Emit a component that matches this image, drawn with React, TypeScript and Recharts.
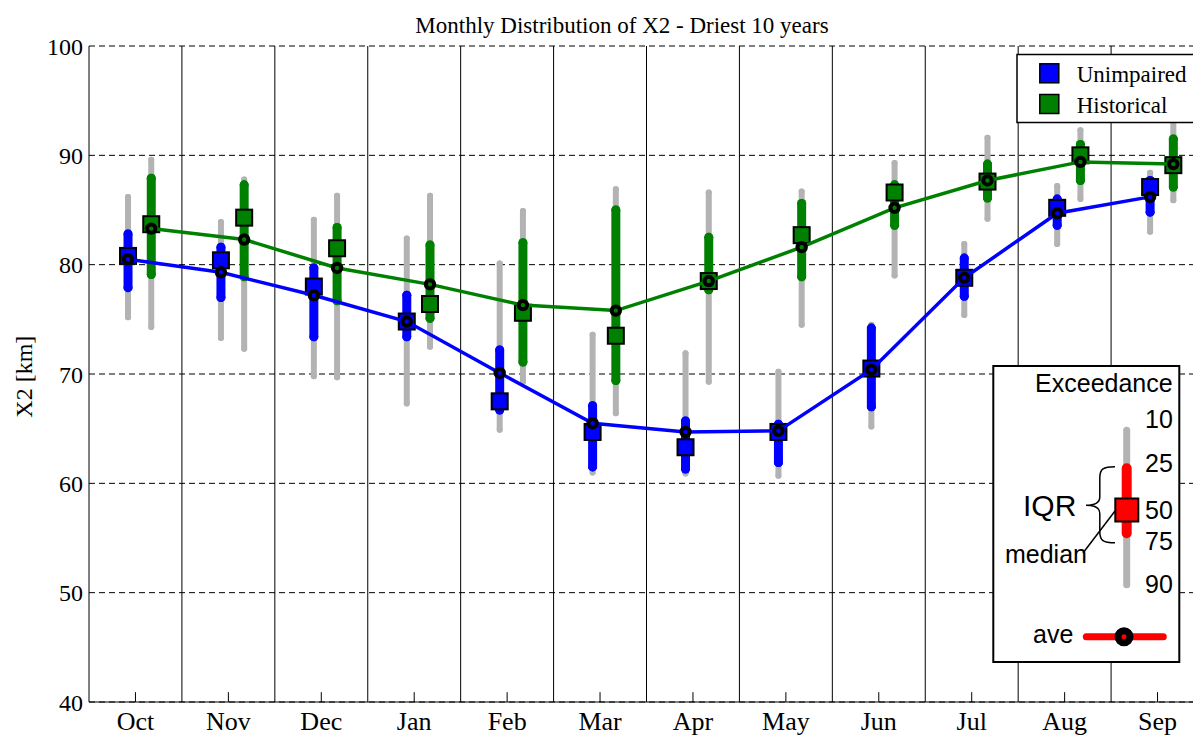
import React from 'react';
import { ComposedChart, Scatter, ErrorBar, XAxis, YAxis, CartesianGrid, ReferenceLine } from 'recharts';

const SERIF = '"Liberation Serif", "Times New Roman", serif';
const SANS = '"Liberation Sans", Arial, sans-serif';

const months = ['Oct', 'Nov', 'Dec', 'Jan', 'Feb', 'Mar', 'Apr', 'May', 'Jun', 'Jul', 'Aug', 'Sep'];
const yTicks = [40, 50, 60, 70, 80, 90, 100];

// Unimpaired (blue) – exceedance percentiles, 10% is the high end
const unimpP10 = [86.2, 83.9, 84.1, 82.4, 80.1, 73.6, 71.9, 70.2, 74.5, 81.9, 87.2, 88.4];
const unimpP25 = [82.8, 81.6, 79.7, 77.2, 72.2, 67.1, 65.7, 65.4, 74.2, 80.6, 86.0, 87.7];
const unimpP50 = [80.8, 80.4, 78.0, 74.8, 67.5, 64.7, 63.3, 64.7, 70.5, 78.8, 85.2, 87.1];
const unimpP75 = [77.9, 77.0, 73.4, 73.4, 66.7, 61.5, 61.3, 61.9, 67.0, 77.1, 83.6, 84.8];
const unimpP90 = [75.2, 73.3, 69.8, 67.3, 64.9, 61.0, 60.9, 60.7, 65.2, 75.4, 81.9, 83.0];
const unimpMean = [80.5, 79.3, 77.2, 74.8, 70.1, 65.5, 64.7, 64.8, 70.4, 78.8, 84.7, 86.2];

// Historical (green)
const histP10 = [89.6, 87.8, 86.3, 86.3, 84.9, 86.9, 86.6, 86.7, 89.3, 91.6, 92.3, 93.5];
const histP25 = [87.9, 87.3, 83.4, 81.8, 82.0, 85.0, 82.5, 85.6, 87.3, 89.2, 91.0, 91.5];
const histP50 = [83.7, 84.3, 81.5, 76.4, 75.6, 73.5, 78.5, 82.7, 86.6, 87.6, 90.0, 89.1];
const histP75 = [79.1, 78.9, 76.7, 75.1, 71.1, 69.4, 77.7, 78.9, 83.6, 86.1, 87.7, 87.1];
const histP90 = [74.3, 72.3, 69.7, 72.5, 69.3, 66.4, 69.3, 74.5, 79.0, 84.2, 86.0, 85.9];
const histMean = [83.3, 82.3, 79.7, 78.2, 76.3, 75.8, 78.5, 81.6, 85.2, 87.7, 89.4, 89.2];

const BLUE = '#0000ff';
const GREEN = '#008000';
const GREY = '#b3b3b3';

function buildRows(p10: number[], p25: number[], p50: number[], p75: number[], p90: number[], mean: number[], offset: number) {
  return months.map((m, i) => ({
    month: m,
    x: i + 0.5 + offset,
    med: p50[i],
    mean: mean[i],
    outer: [p50[i] - p90[i], p10[i] - p50[i]],
    iqr: [p50[i] - p75[i], p25[i] - p50[i]],
  }));
}

const unimpRows = buildRows(unimpP10, unimpP25, unimpP50, unimpP75, unimpP90, unimpMean, -0.08);
const histRows = buildRows(histP10, histP25, histP50, histP75, histP90, histMean, 0.17);

const Nothing = () => <g />;

const square = (fill: string) => (props: any) => (
  <rect x={props.cx - 8} y={props.cy - 8} width={16} height={16} fill={fill} stroke="#000" strokeWidth={2} />
);

const ring = (fill: string) => (props: any) => (
  <circle cx={props.cx} cy={props.cy} r={4.2} fill={fill} stroke="#000" strokeWidth={4} />
);

export default function App() {
  return (
    <div style={{ position: 'relative', width: 1193, height: 730, overflow: 'hidden' }}>
      <style>{'html,body{overflow:hidden}'}</style>
      <ComposedChart width={1200} height={730} margin={{ top: 38, right: 4, bottom: 0, left: 0 }}>
        <CartesianGrid vertical={false} stroke="#000" strokeDasharray="6 4" />
        <XAxis
          type="number"
          dataKey="x"
          domain={[0, 12]}
          ticks={months.map((_, i) => i + 0.5)}
          tickFormatter={(v: number) => months[Math.floor(v)]}
          height={36}
          tickSize={0}
          tickMargin={10}
          axisLine={{ stroke: '#000' }}
          tick={{ fill: '#000', fontSize: 26, fontFamily: SERIF }}
          allowDataOverflow
        />
        <YAxis
          type="number"
          domain={[40, 100]}
          ticks={yTicks}
          width={81}
          tickSize={0}
          tickMargin={6}
          axisLine={{ stroke: '#000' }}
          tick={{ fill: '#000', fontSize: 24, fontFamily: SERIF }}
          allowDataOverflow
        />
        {months.slice(1).map((m, i) => (
          <ReferenceLine key={'sep' + m} x={i + 1} stroke="#000" strokeWidth={1} />
        ))}
        {months.map((m, i) => (
          <ReferenceLine key={'tk' + m} segment={[{ x: i + 0.5, y: 40 }, { x: i + 0.5, y: 40.9 }]} stroke="#000" />
        ))}

        <Scatter data={unimpRows} dataKey="med" shape={Nothing} isAnimationActive={false}>
          <ErrorBar dataKey="outer" direction="y" width={0} stroke={GREY} strokeWidth={6} strokeLinecap="round" isAnimationActive={false} />
        </Scatter>
        <Scatter data={unimpRows} dataKey="med" shape={Nothing} isAnimationActive={false}>
          <ErrorBar dataKey="iqr" direction="y" width={0} stroke={BLUE} strokeWidth={9} strokeLinecap="round" isAnimationActive={false} />
        </Scatter>
        <Scatter data={histRows} dataKey="med" shape={Nothing} isAnimationActive={false}>
          <ErrorBar dataKey="outer" direction="y" width={0} stroke={GREY} strokeWidth={6} strokeLinecap="round" isAnimationActive={false} />
        </Scatter>
        <Scatter data={histRows} dataKey="med" shape={Nothing} isAnimationActive={false}>
          <ErrorBar dataKey="iqr" direction="y" width={0} stroke={GREEN} strokeWidth={9} strokeLinecap="round" isAnimationActive={false} />
        </Scatter>

        <Scatter data={unimpRows} dataKey="med" shape={square(BLUE)} isAnimationActive={false} />
        <Scatter data={histRows} dataKey="med" shape={square(GREEN)} isAnimationActive={false} />

        <Scatter data={unimpRows} dataKey="mean" line={{ stroke: BLUE, strokeWidth: 3.5 }} shape={ring(BLUE)} isAnimationActive={false} />
        <Scatter data={histRows} dataKey="mean" line={{ stroke: GREEN, strokeWidth: 3.5 }} shape={ring(GREEN)} isAnimationActive={false} />
      </ComposedChart>

      <svg width={1193} height={730} style={{ position: 'absolute', left: 0, top: 0, pointerEvents: 'none' }}>
        <text x={614} y={25} textAnchor="middle" fontFamily={SERIF} fontSize={23} fill="#000">
          Monthly Distribution of X2 - Driest 10 years
        </text>
        <text x={24.3} y={368.7} transform="rotate(-90 24.3 368.7)" textAnchor="middle" fontFamily={SERIF} fontSize={24} fill="#000">
          X2 [km]
        </text>

        {/* series legend */}
        <rect x={1009} y={46.5} width={181} height={68} fill="#fff" stroke="#000" strokeWidth={1.5} />
        <rect x={1031.8} y={55.8} width={19} height={19} fill={BLUE} stroke="#000" strokeWidth={1.5} />
        <text x={1068.7} y={73.7} fontFamily={SERIF} fontSize={23} fill="#000">Unimpaired</text>
        <rect x={1031.8} y={86.5} width={19} height={19} fill={GREEN} stroke="#000" strokeWidth={1.5} />
        <text x={1068.7} y={104.7} fontFamily={SERIF} fontSize={23} fill="#000">Historical</text>

        {/* exceedance key */}
        <g transform="translate(985.3,358)">
          <rect x={0} y={0} width={186} height={296} fill="#fff" stroke="#000" strokeWidth={2} />
          <text x={179.4} y={25.7} textAnchor="end" fontFamily={SANS} fontSize={25} fill="#000">Exceedance</text>
          <line x1={133.4} y1={64.2} x2={133.4} y2={218.8} stroke={GREY} strokeWidth={7} strokeLinecap="round" />
          <line x1={133.4} y1={102.3} x2={133.4} y2={167.3} stroke="#ff0000" strokeWidth={10} strokeLinecap="round" />
          <rect x={122} y={132.5} width={23} height={23} fill="#ff0000" stroke="#000" strokeWidth={2} />
          <text x={151.7} y={62} fontFamily={SANS} fontSize={25} fill="#000">10</text>
          <text x={151.7} y={105.7} fontFamily={SANS} fontSize={25} fill="#000">25</text>
          <text x={151.7} y={153} fontFamily={SANS} fontSize={25} fill="#000">50</text>
          <text x={151.7} y={184} fontFamily={SANS} fontSize={25} fill="#000">75</text>
          <text x={151.7} y={227} fontFamily={SANS} fontSize={25} fill="#000">90</text>
          <text x={29.7} y={150} fontFamily={SANS} fontSize={30} fill="#000">IQR</text>
          <path
            d="M121.7,100.7 C110,100.7 106.5,103 106.5,112 L106.5,131 C106.5,136.5 102,139.3 92.7,139.3 C102,139.3 106.5,142 106.5,147.5 L106.5,166 C106.5,174.5 110,176.7 121.7,176.7"
            fill="none"
            stroke="#000"
            strokeWidth={1.5}
          />
          <text x={11.7} y={197} fontFamily={SANS} fontSize={25} fill="#000">median</text>
          <line x1={89.7} y1={187} x2={121.7} y2={145} stroke="#000" strokeWidth={1.5} />
          <text x={39.7} y={277} fontFamily={SANS} fontSize={25} fill="#000">ave</text>
          <line x1={93} y1={270.7} x2={170} y2={270.7} stroke="#ff0000" strokeWidth={7} strokeLinecap="round" />
          <circle cx={130.7} cy={270.7} r={6} fill="#ff0000" stroke="#000" strokeWidth={7} />
        </g>
      </svg>
    </div>
  );
}
